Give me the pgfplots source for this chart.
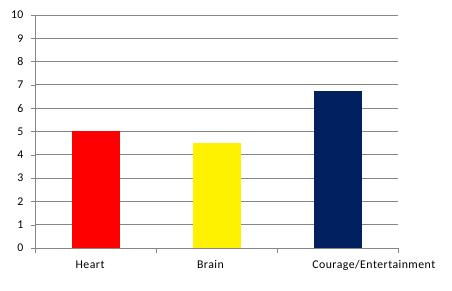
\documentclass[border=0pt]{standalone}
\usepackage{pgfplots}
\pgfplotsset{compat=1.18}
\usepackage{fontspec}
\setmainfont{Carlito}[LetterSpace=4]
\definecolor{gridgray}{HTML}{868686}
\definecolor{navy}{HTML}{002060}
\begin{document}
\begin{tikzpicture}
\begin{axis}[
  name=ax,
  scale only axis,
  width=363pt, height=233pt,
  xmin=-0.5, xmax=2.5,
  ymin=0, ymax=10,
  ytick={0,1,...,10},
  xtick={-0.045,0.95,2.3},
  xticklabels={Heart,Brain,Courage/Entertainment},
  minor xtick={-0.5,0.5,1.5,2.5},
  major x tick style={draw=none},
  minor x tick style={draw=gridgray},
  ytick style={draw=gridgray},
  tick align=outside,
  tick pos=left,
  major tick length=4pt,
  minor tick length=5pt,
  ymajorgrids,
  grid style={gridgray, line width=0.8pt},
  axis x line*=bottom,
  axis y line*=left,
  axis line style={gridgray, line width=0.8pt},
  x axis line style={-},
  y axis line style={-},
  ybar,
  bar width=48pt,
  bar shift=0pt,
  tick label style={font=\fontsize{11.8}{14}\selectfont},
  /pgf/number format/assume math mode=true,
  yticklabel style={xshift=-4pt},
  xticklabel style={yshift=-5pt},
]
\addplot[fill=red, draw=none] coordinates {(0,5)};
\addplot[fill=yellow, draw=none] coordinates {(1,4.5)};
\addplot[fill=navy, draw=none] coordinates {(2,6.75)};
\end{axis}
\path[use as bounding box] ([shift={(-35pt,-43pt)}]ax.south west) rectangle ++(452pt,291pt);
\end{tikzpicture}
\end{document}
